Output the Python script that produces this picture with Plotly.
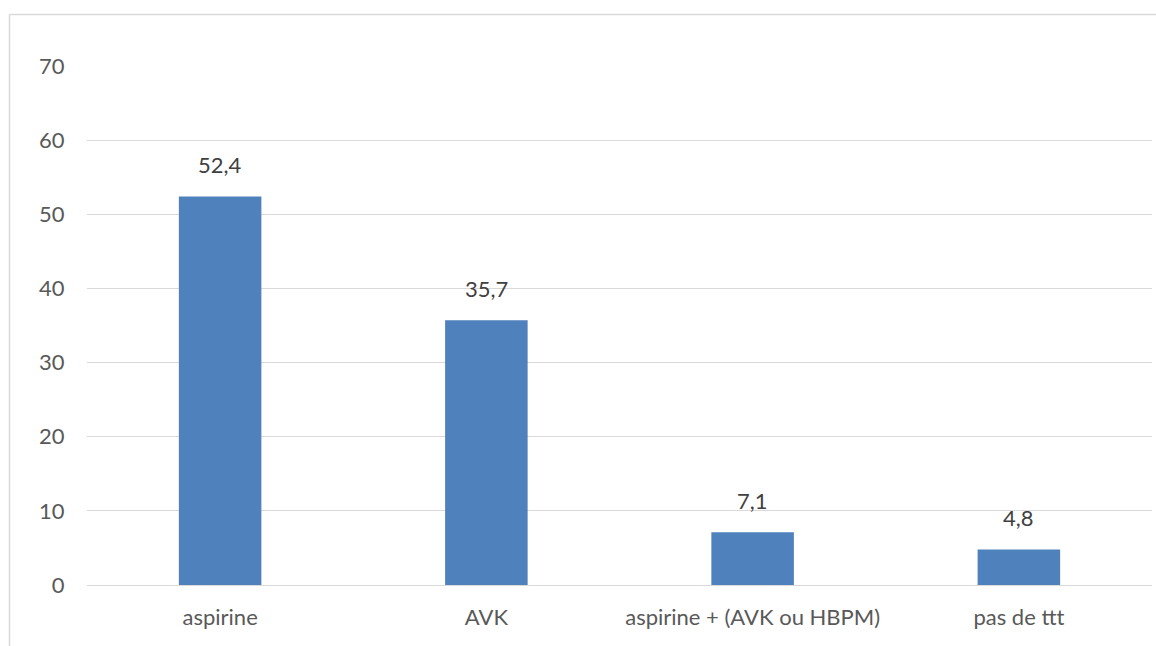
import plotly.graph_objects as go

categories = ["aspirine", "AVK", "aspirine + (AVK ou HBPM)", "pas de ttt"]
values = [52.4, 35.7, 7.1, 4.8]
value_labels = ["52,4", "35,7", "7,1", "4,8"]
y_ticks = [0, 10, 20, 30, 40, 50, 60, 70]

W, H = 1156, 646
ML, MR, MT, MB = 87, 4, 66, 61

fig = go.Figure()
fig.add_trace(go.Bar(
    x=categories,
    y=values,
    marker=dict(color="#4f81bd", line=dict(width=0)),
    width=0.31,
    hoverinfo="skip",
))

for cat, v, lab in zip(categories, values, value_labels):
    fig.add_annotation(
        x=cat, y=v, text=lab, showarrow=False,
        yanchor="bottom", yshift=16,
        font=dict(family="Lato", size=22, color="#404040"),
    )

# light frame around the chart area (left and top edges)
px = lambda x: (x - ML) / (W - ML - MR)
py = lambda y: (H - MB - y) / (H - MT - MB)
fig.add_shape(type="line", xref="paper", yref="paper",
              x0=px(9.5), x1=px(9.5), y0=py(14.5), y1=py(H + 5),
              line=dict(color="#d9d9d9", width=1.5))
fig.add_shape(type="line", xref="paper", yref="paper",
              x0=px(9.5), x1=px(W + 5), y0=py(14.5), y1=py(14.5),
              line=dict(color="#d9d9d9", width=1.5))

fig.update_layout(
    width=W, height=H,
    margin=dict(l=ML, r=MR, t=MT, b=MB, pad=0),
    plot_bgcolor="white", paper_bgcolor="white",
    showlegend=False,
    font=dict(family="Lato", size=22, color="#595959"),
    xaxis=dict(
        showgrid=False, zeroline=False, showline=False,
        ticks="outside", ticklen=13, tickcolor="rgba(0,0,0,0)",
        tickfont=dict(family="Lato", size=22, color="#595959"),
    ),
    yaxis=dict(
        range=[0, 70], tickvals=y_ticks,
        showgrid=True, gridcolor="#d9d9d9", gridwidth=1.4,
        zeroline=True, zerolinecolor="#d9d9d9", zerolinewidth=1.4,
        showline=False,
        ticks="outside", ticklen=17, tickcolor="rgba(0,0,0,0)",
        tickfont=dict(family="Lato", size=22, color="#595959"),
    ),
)

fig.write_html("out.html")
